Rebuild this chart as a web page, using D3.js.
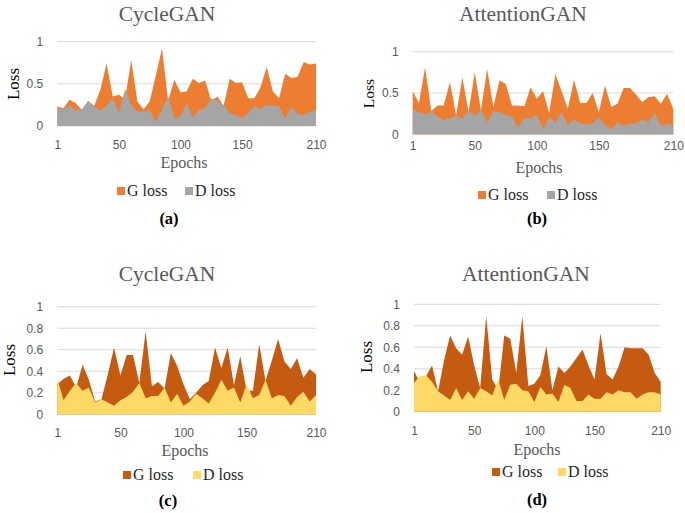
<!DOCTYPE html>
<html><head><meta charset="utf-8">
<script src="https://cdn.jsdelivr.net/npm/d3@7/dist/d3.min.js"></script>
<style>body{margin:0;background:#fff}svg{display:block}</style>
</head><body><svg id="chart" width="685" height="513"></svg>
<script>
// ---------- DATA ----------
const epochsAB = [1,5,10,15,20,25,30,35,40,45,50,55,60,65,70,75,80,85,90,95,100,105,110,115,120,125,130,135,140,145,150,155,160,165,170,175,180,185,190,195,200,205,210];
const epochsCD = [1,5,10,15,20,25,30,35,40,45,50,55,60,65,70,75,80,85,90,95,100,105,110,115,120,125,130,135,140,145,150,155,160,165,170,175,180,185,190,195,200,210];
const xTickLabels = [1,50,100,150,210];
const yTicksAB = [0,0.5,1];
const yTicksCD = [0,0.2,0.4,0.6,0.8,1];
const titles = ["CycleGAN","AttentionGAN","CycleGAN","AttentionGAN"];
const panelLabels = ["(a)","(b)","(c)","(d)"];
const seriesNames = ["G loss","D loss"];

const gLossA = [0.23,0.21,0.31,0.27,0.19,0.29,0.24,0.43,0.74,0.35,0.37,0.32,0.78,0.29,0.20,0.29,0.60,0.92,0.30,0.55,0.40,0.41,0.56,0.51,0.54,0.30,0.35,0.24,0.56,0.51,0.52,0.33,0.33,0.46,0.70,0.41,0.33,0.62,0.57,0.58,0.76,0.73,0.74];
const dLossA = [0.21,0.20,0.25,0.18,0.20,0.30,0.24,0.18,0.24,0.33,0.16,0.44,0.25,0.17,0.17,0.19,0.05,0.20,0.35,0.09,0.12,0.27,0.10,0.19,0.21,0.33,0.30,0.25,0.15,0.13,0.09,0.16,0.24,0.20,0.25,0.24,0.23,0.08,0.23,0.14,0.13,0.17,0.18];

const gLossB = [0.52,0.38,0.81,0.28,0.35,0.35,0.63,0.23,0.69,0.27,0.75,0.29,0.79,0.33,0.65,0.61,0.35,0.35,0.34,0.57,0.43,0.52,0.26,0.73,0.52,0.31,0.66,0.38,0.38,0.50,0.27,0.59,0.33,0.37,0.56,0.56,0.48,0.39,0.45,0.46,0.37,0.49,0.31];
const dLossB = [0.30,0.27,0.24,0.27,0.22,0.17,0.19,0.23,0.19,0.29,0.22,0.30,0.15,0.28,0.27,0.23,0.22,0.08,0.20,0.19,0.24,0.06,0.21,0.14,0.27,0.11,0.18,0.13,0.12,0.13,0.21,0.11,0.06,0.15,0.10,0.13,0.13,0.18,0.15,0.26,0.10,0.13,0.11];

const gLossC = [0.28,0.33,0.36,0.25,0.46,0.32,0.12,0.14,0.37,0.62,0.36,0.55,0.55,0.29,0.77,0.26,0.30,0.24,0.57,0.45,0.28,0.14,0.20,0.27,0.31,0.62,0.43,0.62,0.27,0.54,0.22,0.22,0.65,0.31,0.50,0.70,0.49,0.42,0.52,0.34,0.42,0.37];
const dLossC = [0.33,0.13,0.22,0.29,0.22,0.25,0.11,0.14,0.11,0.08,0.13,0.16,0.21,0.29,0.15,0.17,0.17,0.25,0.11,0.19,0.08,0.12,0.19,0.15,0.10,0.20,0.32,0.22,0.25,0.11,0.28,0.15,0.18,0.32,0.15,0.18,0.17,0.08,0.16,0.21,0.12,0.18];

const gLossD = [0.38,0.27,0.33,0.43,0.19,0.48,0.71,0.59,0.53,0.70,0.43,0.22,0.89,0.30,0.20,0.71,0.68,0.36,0.89,0.24,0.26,0.34,0.61,0.20,0.42,0.36,0.42,0.50,0.58,0.43,0.30,0.73,0.35,0.30,0.42,0.60,0.59,0.59,0.59,0.53,0.36,0.28];
const dLossD = [0.27,0.33,0.34,0.28,0.19,0.15,0.11,0.22,0.11,0.19,0.12,0.22,0.19,0.15,0.30,0.11,0.25,0.26,0.20,0.19,0.09,0.23,0.16,0.17,0.09,0.25,0.22,0.10,0.10,0.16,0.12,0.12,0.18,0.16,0.20,0.18,0.18,0.12,0.16,0.18,0.18,0.16];

// ---------- LAYOUT / STYLE ----------
const colorsAB = ["#ED7D31","#A5A5A5"];
const colorsCD = ["#C55A11","#FFD966"];
const panels = [
  {epochs:epochsAB, g:gLossA, d:dLossA, yTicks:yTicksAB, colors:colorsAB, left:57.3, right:316, top:41.7, bottom:126,
   title:[167,21], lossX:18.5, lossY:84, lossSize:17, xPad:14.5, epochsPos:[184,168], legY:196, legX:[117,185], label:[169,224]},
  {epochs:epochsAB, g:gLossB, d:dLossB, yTicks:yTicksAB, colors:colorsAB, left:412.7, right:673.3, top:51.7, bottom:134.3,
   title:[523,20.5], lossX:373.5, lossY:93.5, lossSize:15.5, xPad:7, epochsPos:[539,173], legY:200, legX:[478,547], label:[537,224]},
  {epochs:epochsCD, g:gLossC, d:dLossC, yTicks:yTicksCD, colors:colorsCD, left:57.3, right:316, top:306.7, bottom:414.3,
   title:[167,281], lossX:14.5, lossY:360, lossSize:17, xPad:14.2, epochsPos:[185,456], legY:480, legX:[123,193], label:[168,506]},
  {epochs:epochsCD, g:gLossD, d:dLossD, yTicks:yTicksCD, colors:colorsCD, left:414, right:660.7, top:304.3, bottom:411.7,
   title:[526,281], lossX:371.5, lossY:357, lossSize:17, xPad:14.8, epochsPos:[537,455], legY:477, legX:[492,558], label:[537,505]}
];

const svg = d3.select("#chart");
const serif = "'Liberation Serif','Times New Roman',serif";
const sans = "'Liberation Sans',Arial,sans-serif";

panels.forEach((p, i) => {
  const g = svg.append("g");
  const x = d3.scalePoint().domain(p.epochs).range([p.left, p.right]).padding(0);
  const y = d3.scaleLinear().domain([0, 1]).range([p.bottom, p.top]);

  // gridlines
  g.selectAll("line.grid").data(p.yTicks).join("line")
    .attr("class","grid")
    .attr("x1", p.left).attr("x2", p.right)
    .attr("y1", d => y(d)).attr("y2", d => y(d))
    .attr("stroke", "#D9D9D9").attr("stroke-width", 1);

  // areas: G behind, D in front
  const area = d3.area()
    .x((d, j) => x(p.epochs[j]))
    .y0(y(0))
    .y1(d => y(d));
  g.append("path").datum(p.g).attr("d", area).attr("fill", p.colors[0]);
  g.append("path").datum(p.d).attr("d", area).attr("fill", p.colors[1]);

  // y axis
  const ya = g.append("g").attr("transform", `translate(${p.left},0)`)
    .call(d3.axisLeft(y).tickValues(p.yTicks).tickSize(0).tickPadding(14).tickFormat(d3.format("~g")));
  ya.select(".domain").remove();
  ya.selectAll("text").attr("font-family", sans).attr("font-size", 12).attr("fill", "#595959");

  // x axis
  const xa = g.append("g").attr("transform", `translate(0,${p.bottom})`)
    .call(d3.axisBottom(x).tickValues(xTickLabels).tickSize(0).tickPadding(p.xPad));
  xa.select(".domain").remove();
  xa.selectAll("text").attr("font-family", sans).attr("font-size", 12).attr("fill", "#595959");

  // title
  g.append("text").attr("x", p.title[0]).attr("y", p.title[1]).attr("text-anchor","middle")
    .attr("font-family", serif).attr("font-size", 21.5).attr("fill", "#595959").text(titles[i]);

  // y label
  g.append("text").attr("transform", `translate(${p.lossX},${p.lossY}) rotate(-90)`).attr("text-anchor","middle")
    .attr("font-family", serif).attr("font-size", p.lossSize).attr("fill", "#000").text("Loss");

  // x label
  g.append("text").attr("x", p.epochsPos[0]).attr("y", p.epochsPos[1]).attr("text-anchor","middle")
    .attr("font-family", serif).attr("font-size", 16).attr("fill", "#595959").text("Epochs");

  // legend
  seriesNames.forEach((name, k) => {
    g.append("rect").attr("x", p.legX[k]).attr("y", p.legY - 9).attr("width", 8).attr("height", 8).attr("fill", p.colors[k]);
    g.append("text").attr("x", p.legX[k] + 10).attr("y", p.legY)
      .attr("font-family", serif).attr("font-size", 16).attr("fill", "#262626").text(name);
  });

  // panel label
  g.append("text").attr("x", p.label[0]).attr("y", p.label[1]).attr("text-anchor","middle")
    .attr("font-family", serif).attr("font-size", 16.5).attr("font-weight","bold").attr("fill", "#000").text(panelLabels[i]);
});
</script>
</body></html>
